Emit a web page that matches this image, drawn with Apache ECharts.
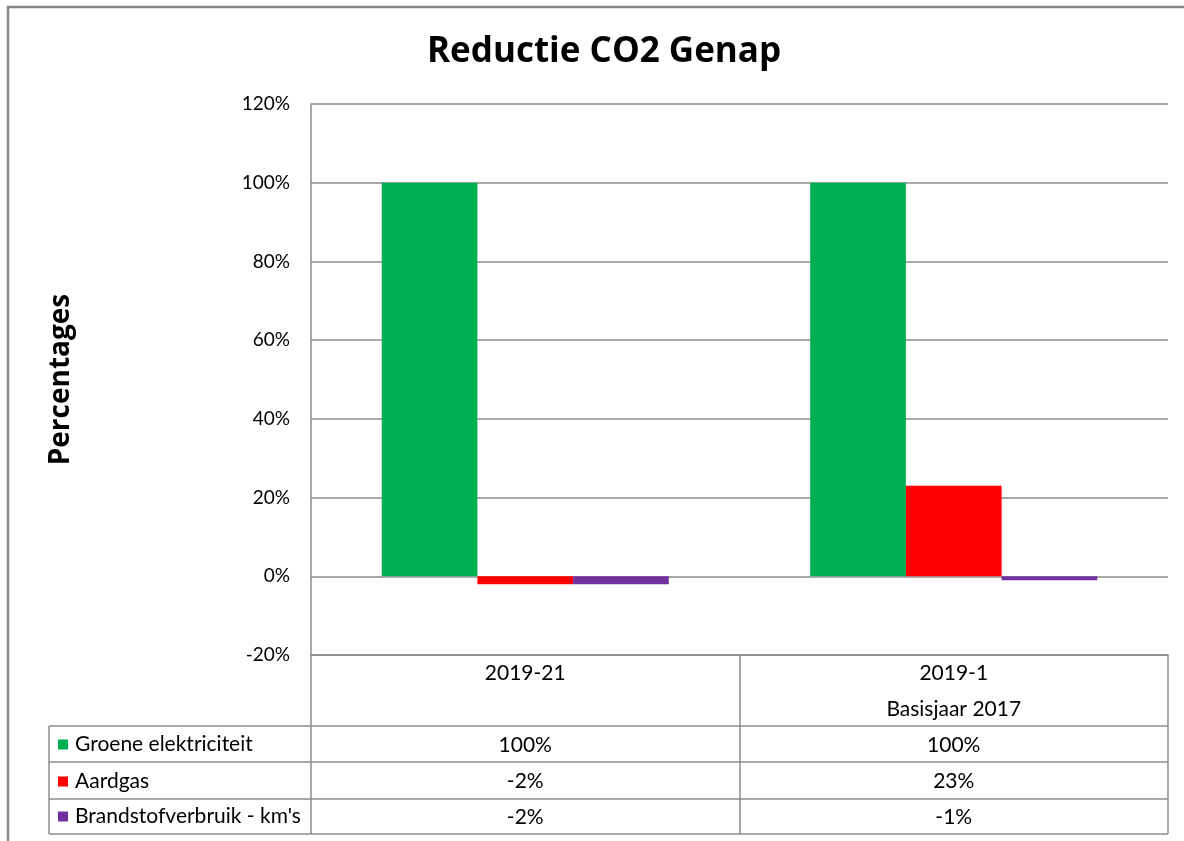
<!DOCTYPE html>
<html>
<head>
<meta charset="utf-8">
<script src="https://cdn.jsdelivr.net/npm/echarts@6/dist/echarts.min.js"></script>
<style>html,body{margin:0;padding:0;background:#fff}#c{width:1184px;height:841px}</style>
</head>
<body>
<div id="c"></div>
<script>
// ---- data ----
const categories = ['2019-21', '2019-1'];
const categorySub = ['', 'Basisjaar 2017'];
const seriesNames = ['Groene elektriciteit', 'Aardgas', "Brandstofverbruik - km's"];
const groene = [100, 100];
const aardgas = [-2, 23];
const brandstof = [-2, -1];
const yTicks = [-20, 0, 20, 40, 60, 80, 100, 120];

const colors = ['#00B050', '#FF0000', '#7030A0'];
const allSeries = [groene, aardgas, brandstof];
const FONT = 'Lato';
const BOLD_FONT = 'Open Sans';
const GRID = '#8c8c8c';

// layout
const plotL = 311, plotR = 1168, plotT = 104, plotB = 655;
const rowLines = [726, 762, 799, 834];
const rowCenters = [744, 781, 816];

const chart = echarts.init(document.getElementById('c'));

const graphics = [
  { type: 'rect', shape: { x: 8, y: 7, width: 1200, height: 860 }, style: { fill: 'none', stroke: '#888', lineWidth: 2.5 }, silent: true },
  { type: 'line', shape: { x1: 49, y1: rowLines[0], x2: 49, y2: rowLines[3] }, style: { stroke: GRID, lineWidth: 1.5 } }
];
rowLines.forEach(y => graphics.push({ type: 'line', shape: { x1: 49, y1: y, x2: plotR, y2: y }, style: { stroke: GRID, lineWidth: 1.5 } }));

chart.setOption({
  animation: false,
  backgroundColor: '#fff',
  title: {
    text: 'Reductie CO2 Genap',
    left: 422, top: 30,
    textStyle: { fontFamily: BOLD_FONT, fontWeight: 'bold', fontSize: 35, color: '#000' }
  },
  legend: seriesNames.map((n, i) => ({
    data: [n], orient: 'vertical', left: 58, top: rowCenters[i] - 10, padding: 0,
    itemWidth: 10, itemHeight: 10, icon: 'rect', selectedMode: false,
    textStyle: { fontFamily: FONT, fontSize: 21, color: '#000', padding: [0, 0, 0, 2] }
  })),
  grid: { left: plotL, right: 1184 - plotR, top: plotT, bottom: 841 - plotB, containLabel: false },
  xAxis: {
    type: 'category', data: categories,
    axisLine: { onZero: false, show: true, lineStyle: { color: GRID, width: 1.5 } },
    axisTick: { show: true, length: rowLines[3] - plotB, lineStyle: { color: GRID, width: 1.5 } },
    axisLabel: {
      margin: 0, interval: 0,
      formatter: (v, idx) => {
        const lines = [v, categorySub[idx] || ' '];
        allSeries.forEach(s => lines.push(s[idx] + '%'));
        return lines.join('\n');
      },
      fontFamily: FONT, fontSize: 21, color: '#000', lineHeight: 36
    }
  },
  yAxis: {
    type: 'value', min: -20, max: 120, interval: 20,
    name: 'Percentages', nameLocation: 'middle', nameRotate: 90, nameGap: 236,
    nameTextStyle: { fontFamily: BOLD_FONT, fontWeight: 'bold', fontSize: 28, color: '#000' },
    axisLine: { show: true, lineStyle: { color: GRID, width: 1.5 } },
    axisTick: { show: false },
    axisLabel: { formatter: v => v + '%', margin: 21, fontFamily: FONT, fontSize: 19, color: '#000',
      customValues: yTicks },
    splitLine: { lineStyle: { color: GRID, width: 1.5 } }
  },
  series: seriesNames.map((n, i) => ({
    name: n, type: 'bar', data: allSeries[i],
    barGap: '0%', barCategoryGap: '33%',
    itemStyle: { color: colors[i] }
  })),
  graphic: graphics
});
</script>
</body>
</html>
